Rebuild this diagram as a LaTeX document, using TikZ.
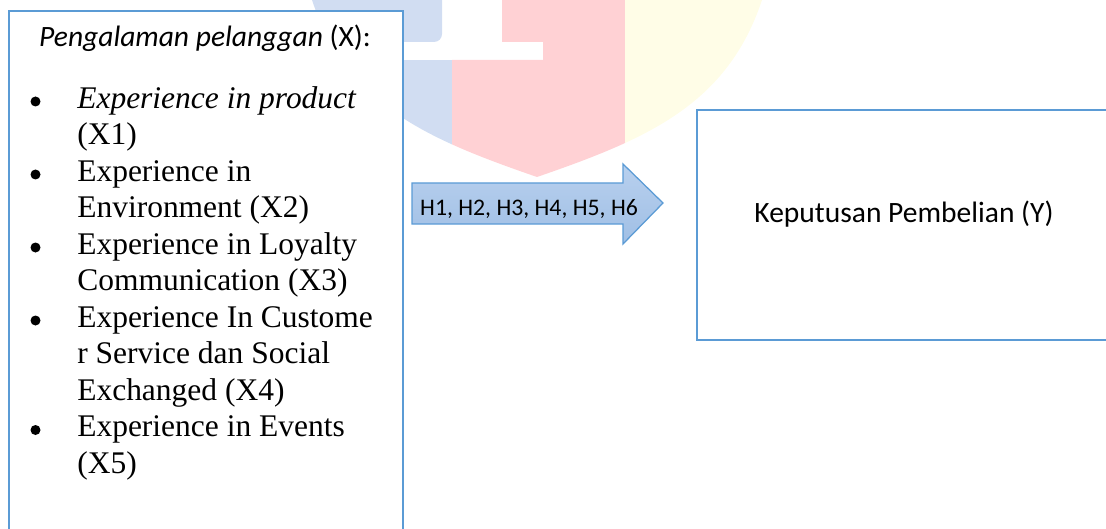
\documentclass[tikz,border=0pt]{standalone}
\usepackage{fontspec}
\setmainfont{Liberation Serif}
\newfontfamily\calibrifont{Carlito}
\usetikzlibrary{positioning,calc}
\definecolor{boxblue}{RGB}{91,155,213}
\definecolor{arrowtop}{RGB}{184,208,238}
\definecolor{arrowbottom}{RGB}{160,191,229}
\definecolor{markblue}{RGB}{209,221,242}
\definecolor{markred}{RGB}{255,209,212}
\definecolor{markyellow}{RGB}{255,253,231}

\begin{document}
\begin{tikzpicture}[
    varbox/.style={draw=boxblue, line width=1.6pt, fill=white, inner sep=0pt},
    calibri/.style={font=\calibrifont\fontsize{21}{25}\selectfont, inner sep=0pt},
    hyptext/.style={font=\calibrifont\fontsize{16.9}{20}\selectfont, inner sep=0pt},
    listtext/.style={font=\fontsize{22.4}{25.96}\selectfont, align=left, inner sep=0pt},
    bulletdot/.style={circle, fill=black, minimum size=0.25cm, inner sep=0pt}
]
    \useasboundingbox (0,0) rectangle (27.65,-13.225);
    \clip (0,0) rectangle (27.65,-13.225);

    % Faint shield in the background
    \begin{scope}
        \clip (7.8,0.3) -- (7.8,0) .. controls (8.675,-2.625) and (10.675,-3.475) .. (13.425,-4.425)
              .. controls (16.175,-3.475) and (18.175,-2.625) .. (19.05,0) -- (19.05,0.3) -- cycle;
        \fill[markblue] (7,-1.5) rectangle (11.3,-5);
        \fill[markblue, rounded corners=0.2cm] (7,0.5) rectangle (11.05,-1.05);
        \fill[markred] (12.55,0.3) -- (12.55,-1.05) -- (13.575,-1.05) -- (13.575,-1.5)
              -- (11.3,-1.5) -- (11.3,-5) -- (15.625,-5) -- (15.625,0.3) -- cycle;
        \fill[markyellow] (15.625,0.3) rectangle (20,-5);
    \end{scope}

    % Boxes
    \node[varbox, anchor=north west, minimum width=9.85cm, minimum height=13.6cm] (xbox) at (0.2,-0.25) {};
    \node[varbox, anchor=north west, minimum width=11cm, minimum height=5.75cm] (ybox) at (17.4,-2.725) {};

    % Block arrow
    \draw[draw=boxblue, line width=0.9pt, top color=arrowtop, bottom color=arrowbottom]
        (10.3,-4.575) -- (15.575,-4.575) -- (15.575,-4.1) -- (16.575,-5.075)
        -- (15.575,-6.1) -- (15.575,-5.6) -- (10.3,-5.6) -- cycle;
    \node[hyptext, anchor=base] (hyp) at (13.225,-5.39) {H1, H2, H3, H4, H5, H6};

    % Texts
    \node[calibri, anchor=base] (xhead) at (5.125,-1.175) {\textit{Pengalaman pelanggan} (X):};
    \node[listtext, anchor=base west] (xitems) at (1.925,-11.825) {%
        \textit{Experience in product}\\
        (X1)\\
        Experience in\\
        Environment (X2)\\
        Experience in Loyalty\\
        Communication (X3)\\
        Experience In Custome\\
        r Service dan Social\\
        Exchanged (X4)\\
        Experience in Events\\
        (X5)};
    \foreach \n/\k in {1/0, 2/2, 3/4, 4/6, 5/9}
        \node[bulletdot] (bul\n) at (0.8875,-2.5375-0.9125*\k) {};
    \node[calibri, anchor=base] (ylabel) at (22.6,-5.575) {Keputusan Pembelian (Y)};
\end{tikzpicture}
\end{document}
